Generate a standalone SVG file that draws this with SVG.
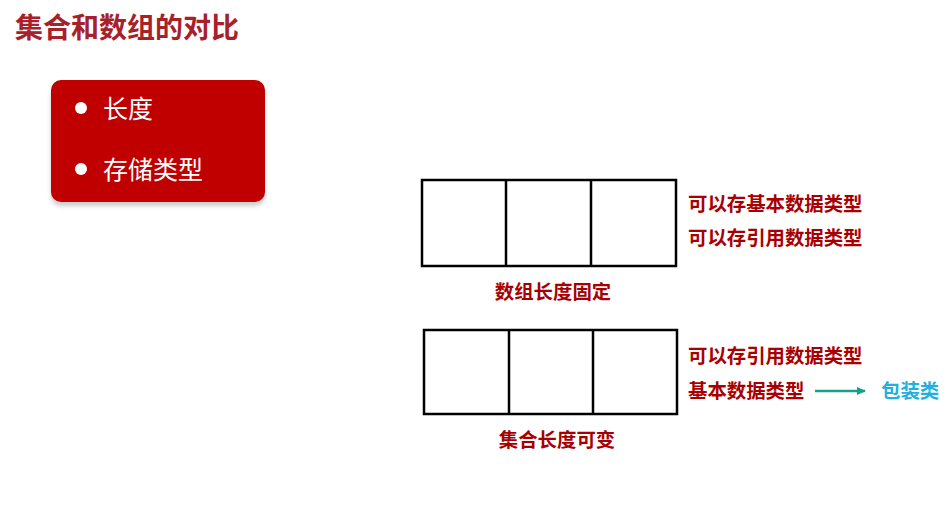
<svg xmlns="http://www.w3.org/2000/svg" width="947" height="512" viewBox="0 0 947 512">
<style>
.t{font-family:"Noto Sans CJK SC","Liberation Sans",sans-serif;}
.title{font-size:28px;font-weight:bold;fill:#a8202a;}
.wh{font-size:25px;fill:#ffffff;}
.rd{font-size:19.4px;font-weight:bold;fill:#a80000;}
.bl{font-size:19.4px;font-weight:bold;fill:#1fb0e0;}
.cell{fill:#ffffff;stroke:#000000;stroke-width:2.5;}
</style>
<defs>
<marker id="ah" markerWidth="9" markerHeight="9" refX="8" refY="4.5" orient="auto" markerUnits="userSpaceOnUse">
<path d="M0,0.5 L9,4.5 L0,8.5 Z" fill="#1a9e8c"/>
</marker>
<filter id="sh" x="-10%" y="-10%" width="120%" height="130%">
<feDropShadow dx="0" dy="4" stdDeviation="2" flood-color="#000000" flood-opacity="0.2"/>
</filter>
</defs>
<rect width="947" height="512" fill="#ffffff"/>
<text id="title" class="t title" x="15" y="38">集合和数组的对比</text>
<g id="card">
<rect x="51" y="80" width="214" height="122" rx="10" fill="#c00000" filter="url(#sh)"/>
<circle cx="81" cy="108" r="6" fill="#ffffff"/>
<circle cx="81" cy="169" r="6" fill="#ffffff"/>
<text class="t wh" x="103" y="118">长度</text>
<text class="t wh" x="103" y="179">存储类型</text>
</g>
<g id="array">
<rect class="cell" x="422" y="180" width="254" height="86"/>
<line class="cell" x1="506" y1="180" x2="506" y2="266"/>
<line class="cell" x1="591" y1="180" x2="591" y2="266"/>
<text class="t rd" x="688" y="211">可以存基本数据类型</text>
<text class="t rd" x="688" y="245">可以存引用数据类型</text>
<text class="t rd" x="553" y="299" text-anchor="middle">数组长度固定</text>
</g>
<g id="collection">
<rect class="cell" x="424" y="330" width="253" height="84"/>
<line class="cell" x1="509" y1="330" x2="509" y2="414"/>
<line class="cell" x1="593" y1="330" x2="593" y2="414"/>
<text class="t rd" x="688" y="363">可以存引用数据类型</text>
<text class="t rd" x="688" y="398">基本数据类型</text>
<text class="t rd" x="557" y="447" text-anchor="middle">集合长度可变</text>
</g>
<g id="wrapper">
<text class="t bl" x="881" y="398">包装类</text>
</g>
<g id="connectors">
<line x1="815" y1="391" x2="865" y2="391" stroke="#1a9e8c" stroke-width="2.5" marker-end="url(#ah)"/>
</g>
</svg>
